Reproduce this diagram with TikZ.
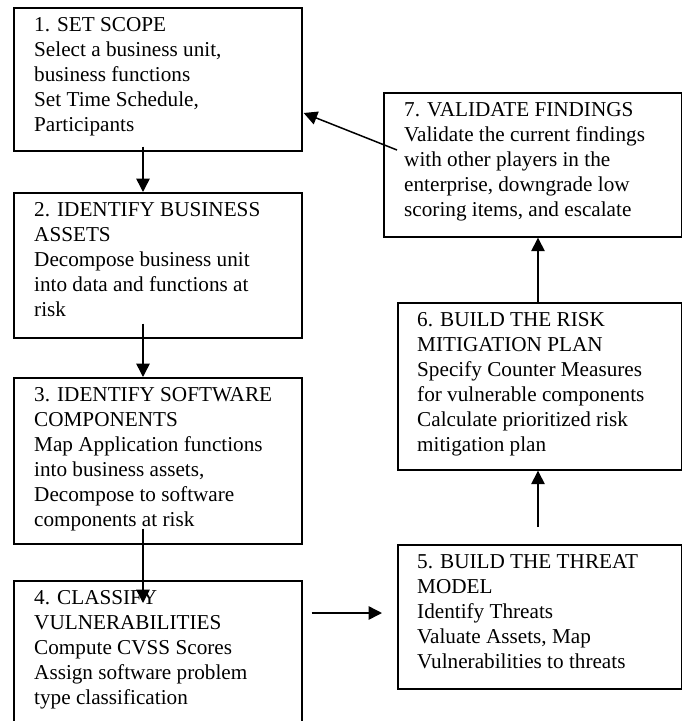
\documentclass[tikz,border=0pt]{standalone}
\usepackage{fontspec}
\setmainfont{Liberation Serif}
\usetikzlibrary{arrows.meta,calc}

\tikzset{
  stepbox/.style={draw=black, line width=1.7pt, fill=none, rectangle,
    inner sep=0pt, anchor=north west},
  boxtext/.style={anchor=north west, inner sep=0pt, align=left,
    font=\fontsize{21.2}{25}\selectfont,
    execute at begin node={\rule{0pt}{20pt}}},
  flow/.style={line width=1.5pt, -{Triangle[length=13.5pt,width=13.5pt]}}
}

\begin{document}
\begin{tikzpicture}[x=1pt,y=-1pt]
  \useasboundingbox (0,0) rectangle (682,721);
  \clip (0,0) rectangle (682,721);

  % process boxes
  \node[stepbox, minimum width=288pt, minimum height=143pt] (b1) at (13,7) {};
  \node[stepbox, minimum width=288pt, minimum height=145pt] (b2) at (13,192) {};
  \node[stepbox, minimum width=288pt, minimum height=166pt] (b3) at (13,377) {};
  \node[stepbox, minimum width=288pt, minimum height=180pt] (b4) at (13,580) {};
  \node[stepbox, minimum width=284pt, minimum height=144pt] (b5) at (397,544) {};
  \node[stepbox, minimum width=284pt, minimum height=167pt] (b6) at (397,302) {};
  \node[stepbox, minimum width=298pt, minimum height=144pt] (b7) at (383,92) {};

  % box contents
  \node[boxtext] (t1) at ($(b1.north west)+(21,10.5)$)
    {1. SET SCOPE\\Select a business unit,\\business functions\\Set Time Schedule,\\Participants};
  \node[boxtext] (t2) at ($(b2.north west)+(21,10.5)$)
    {2. IDENTIFY BUSINESS\\ASSETS\\Decompose business unit\\into data and functions at\\risk};
  \node[boxtext] (t3) at ($(b3.north west)+(21,10.5)$)
    {3. IDENTIFY SOFTWARE\\COMPONENTS\\Map Application functions\\into business assets,\\Decompose to software\\components at risk};
  \node[boxtext] (t4) at ($(b4.north west)+(21,10.5)$)
    {4. CLASSIFY\\VULNERABILITIES\\Compute CVSS Scores\\Assign software problem\\type classification};
  \node[boxtext] (t5) at ($(b5.north west)+(20,10.5)$)
    {5. BUILD THE THREAT\\MODEL\\Identify Threats\\Valuate Assets, Map\\Vulnerabilities to threats};
  \node[boxtext] (t6) at ($(b6.north west)+(20,10.5)$)
    {6. BUILD THE RISK\\MITIGATION PLAN\\Specify Counter Measures\\for vulnerable components\\Calculate prioritized risk\\mitigation plan};
  \node[boxtext] (t7) at ($(b7.north west)+(21,10.5)$)
    {7. VALIDATE FINDINGS\\Validate the current findings\\with other players in the\\enterprise, downgrade low\\scoring items, and escalate};

  % flow arrows
  \draw[flow] ($(b1.south west)+(130,-5)$) -- ($(b2.north west)+(130,0)$);
  \draw[flow] ($(b2.south west)+(130,-15)$) -- ($(b3.north west)+(130,0)$);
  \draw[flow] ($(b3.south west)+(130,-16)$) -- ($(b4.north west)+(130,23)$);
  \draw[flow] ($(b4.north east)+(9,33)$) -- ($(b5.north west)+(-15,69)$);
  \draw[flow] ($(b5.north west)+(141,-17)$) -- ($(b6.south west)+(141,0)$);
  \draw[flow] ($(b6.north west)+(141,0)$) -- ($(b7.south west)+(155,0)$);
  \draw[flow] ($(b7.north west)+(14,58)$) -- ($(b1.north east)+(1,106)$);
\end{tikzpicture}
\end{document}
